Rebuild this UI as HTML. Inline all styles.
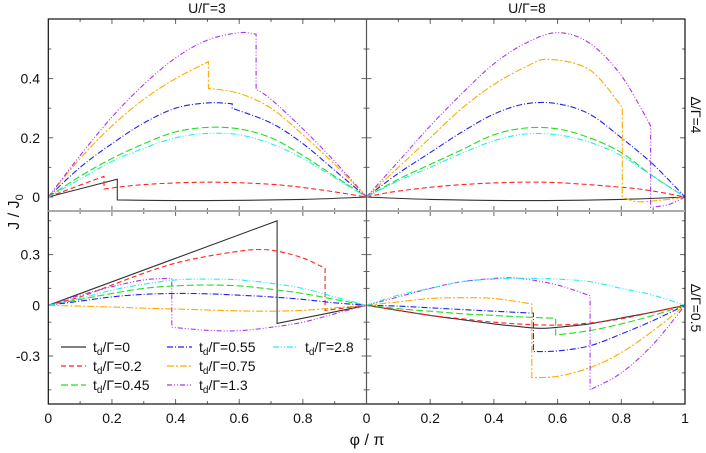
<!DOCTYPE html>
<html><head><meta charset="utf-8"><style>
body{margin:0;background:#fff}
svg{display:block;font-family:"Liberation Sans",sans-serif}
</style></head><body>
<svg id="c" width="706" height="453"></svg>
<script>
const panelsX = [[48.3,366.5],[366.5,685]];
const rowsY = [{top:19,bot:211,zero:197,scale:296},{top:211,bot:404,zero:305.3,scale:169}];
const seriesNames = ["t_d/Γ=0","t_d/Γ=0.2","t_d/Γ=0.45","t_d/Γ=0.55","t_d/Γ=0.75","t_d/Γ=1.3","t_d/Γ=2.8"];
const seriesColors = ["#333","#f22","#2d2","#22e","#fa0","#a3e","#2ee"];
const seriesDash = ["","5,3","7,3","6,2,1,2","7,2,2,2","5,2,1,2,1,2","6,2,1,2,1,2"];
const dataTL = [
 [[0,0],[0.217,0.06],[0.217,-0.01],[0.5,-0.012],[0.8,-0.008],[1,0]],
 [[0,0],[0.175,0.07],[0.175,0.027],[0.3,0.042],[0.5,0.05],[0.7,0.043],[0.85,0.025],[1,0]],
 [[0,0],[0.1,0.07],[0.2,0.13],[0.3,0.18],[0.4,0.22],[0.5,0.235],[0.6,0.23],[0.7,0.2],[0.8,0.14],[0.9,0.07],[1,0]],
 [[0,0],[0.1,0.1],[0.2,0.18],[0.3,0.25],[0.4,0.3],[0.5,0.318],[0.578,0.315],[0.578,0.3],[0.7,0.25],[0.8,0.18],[0.9,0.09],[1,0]],
 [[0,0],[0.1,0.13],[0.2,0.24],[0.3,0.33],[0.4,0.4],[0.503,0.457],[0.503,0.367],[0.6,0.35],[0.7,0.3],[0.8,0.21],[0.9,0.11],[1,0]],
 [[0,0],[0.1,0.14],[0.2,0.27],[0.3,0.38],[0.4,0.47],[0.5,0.53],[0.6,0.555],[0.653,0.55],[0.653,0.364],[0.7,0.33],[0.8,0.23],[0.9,0.12],[1,0]],
 [[0,0],[0.1,0.06],[0.2,0.12],[0.3,0.165],[0.4,0.2],[0.5,0.215],[0.6,0.21],[0.7,0.18],[0.8,0.13],[0.9,0.065],[1,0]]
];
const dataTR = [
 [[0,0],[0.2,-0.008],[0.5,-0.012],[0.8,-0.008],[1,0]],
 [[0,0],[0.1,0.02],[0.3,0.042],[0.55,0.05],[0.8,0.033],[0.9,0.02],[1,0]],
 [[0,0],[0.1,0.06],[0.2,0.11],[0.3,0.16],[0.4,0.21],[0.5,0.233],[0.6,0.23],[0.7,0.2],[0.8,0.15],[0.9,0.07],[1,0]],
 [[0,0],[0.1,0.08],[0.2,0.15],[0.3,0.22],[0.4,0.28],[0.5,0.315],[0.6,0.315],[0.7,0.28],[0.8,0.2],[0.9,0.11],[1,0]],
 [[0,0],[0.1,0.1],[0.2,0.2],[0.3,0.3],[0.4,0.38],[0.5,0.44],[0.57,0.465],[0.7,0.43],[0.803,0.303],[0.803,0.001],[0.85,-0.016],[0.93,-0.01],[1,0]],
 [[0,0],[0.1,0.12],[0.2,0.24],[0.3,0.35],[0.4,0.45],[0.5,0.52],[0.6,0.555],[0.7,0.52],[0.8,0.41],[0.892,0.241],[0.892,-0.035],[0.95,-0.025],[1,0]],
 [[0,0],[0.1,0.055],[0.2,0.1],[0.3,0.148],[0.4,0.19],[0.5,0.213],[0.6,0.21],[0.7,0.185],[0.8,0.14],[0.9,0.07],[1,0]]
];
const dataBL = [
 [[0,0],[0.719,0.5],[0.719,-0.107],[0.87,-0.05],[1,0]],
 [[0,0],[0.1,0.05],[0.2,0.12],[0.3,0.19],[0.4,0.25],[0.5,0.29],[0.6,0.32],[0.66,0.33],[0.72,0.32],[0.8,0.28],[0.87,0.219],[0.87,-0.03],[1,0]],
 [[0,0],[0.1,0.035],[0.2,0.07],[0.3,0.1],[0.4,0.115],[0.5,0.12],[0.6,0.115],[0.7,0.095],[0.8,0.07],[0.9,0.035],[1,0]],
 [[0,0],[0.1,0.025],[0.2,0.05],[0.3,0.065],[0.4,0.07],[0.5,0.068],[0.6,0.06],[0.7,0.05],[0.8,0.035],[0.9,0.015],[1,0]],
 [[0,0],[0.1,-0.005],[0.2,-0.01],[0.3,-0.017],[0.4,-0.022],[0.5,-0.028],[0.6,-0.033],[0.7,-0.035],[0.8,-0.03],[0.9,-0.015],[1,0]],
 [[0,0],[0.1,0.06],[0.2,0.11],[0.3,0.15],[0.388,0.16],[0.388,-0.13],[0.5,-0.148],[0.6,-0.15],[0.7,-0.13],[0.8,-0.1],[0.9,-0.05],[1,0]],
 [[0,0],[0.1,0.04],[0.2,0.09],[0.3,0.125],[0.4,0.15],[0.5,0.155],[0.6,0.15],[0.7,0.13],[0.8,0.1],[0.9,0.05],[1,0]]
];
const dataBR = [
 [[0,0],[0.1,-0.03],[0.2,-0.06],[0.3,-0.085],[0.4,-0.11],[0.5,-0.13],[0.55,-0.136],[0.6,-0.13],[0.7,-0.11],[0.8,-0.075],[0.9,-0.04],[1,0]],
 [[0,0],[0.1,-0.03],[0.2,-0.06],[0.3,-0.08],[0.4,-0.1],[0.5,-0.113],[0.6,-0.117],[0.7,-0.105],[0.8,-0.08],[0.9,-0.04],[1,0]],
 [[0,0],[0.1,-0.02],[0.2,-0.035],[0.3,-0.05],[0.4,-0.06],[0.5,-0.07],[0.594,-0.077],[0.594,-0.176],[0.7,-0.15],[0.8,-0.11],[0.9,-0.06],[1,0]],
 [[0,0],[0.1,-0.005],[0.2,-0.015],[0.3,-0.025],[0.4,-0.035],[0.524,-0.047],[0.524,-0.274],[0.6,-0.27],[0.7,-0.24],[0.8,-0.17],[0.9,-0.09],[1,0]],
 [[0,0],[0.1,0.02],[0.2,0.04],[0.3,0.045],[0.4,0.04],[0.519,0.008],[0.519,-0.428],[0.6,-0.42],[0.7,-0.37],[0.8,-0.28],[0.9,-0.15],[1,0]],
 [[0,0],[0.1,0.05],[0.2,0.1],[0.3,0.14],[0.43,0.162],[0.5,0.155],[0.6,0.12],[0.702,0.057],[0.702,-0.5],[0.8,-0.4],[0.9,-0.23],[1,0]],
 [[0,0],[0.1,0.06],[0.2,0.1],[0.3,0.14],[0.4,0.155],[0.5,0.16],[0.6,0.155],[0.7,0.14],[0.8,0.1],[0.9,0.06],[1,0]]
];
const xTicks = [0,0.2,0.4,0.6,0.8];
const yTicksTop = [0,0.2,0.4];
const yTicksBot = [-0.3,0,0.3];
const panels = [[dataTL,dataTR],[dataBL,dataBR]];
const NS="http://www.w3.org/2000/svg", svg=document.getElementById('c');
function mk(t,a,p){const e=document.createElementNS(NS,t);for(const k in a)e.setAttribute(k,a[k]);(p||svg).appendChild(e);return e;}
function xS(c,v){const [a,b]=panelsX[c];return a+(b-a)*v;}
function yS(r,v){const R=rowsY[r];return R.zero-v*R.scale;}
// smooth path: split at jumps (equal x), catmull-rom within segments
function smoothPath(P){
  const segs=[];let cur=[P[0]];
  for(let i=1;i<P.length;i++){
    if(Math.abs(P[i][0]-P[i-1][0])<0.01){segs.push(cur);cur=[P[i]];}else cur.push(P[i]);
  }
  segs.push(cur);
  let d='';
  segs.forEach((s,si)=>{
    d+=(si?'L':'M')+s[0][0].toFixed(1)+','+s[0][1].toFixed(1);
    for(let i=0;i<s.length-1;i++){
      const p0=s[i-1]||s[i],p1=s[i],p2=s[i+1],p3=s[i+2]||s[i+1];
      const c1=[p1[0]+(p2[0]-p0[0])/6,p1[1]+(p2[1]-p0[1])/6];
      const c2=[p2[0]-(p3[0]-p1[0])/6,p2[1]-(p3[1]-p1[1])/6];
      d+='C'+c1[0].toFixed(1)+','+c1[1].toFixed(1)+' '+c2[0].toFixed(1)+','+c2[1].toFixed(1)+' '+p2[0].toFixed(1)+','+p2[1].toFixed(1);
    }
  });
  return d;
}
for(let r=0;r<2;r++)for(let c=0;c<2;c++){
  const R=rowsY[r];
  for(let i=1;i<10;i++){const x=xS(c,i/10);
    let t=mk('line',{x1:x,x2:x,y1:R.bot,y2:R.bot-(i%2?3:5),stroke:'#666'});
    
    t=mk('line',{x1:x,x2:x,y1:R.top,y2:R.top+(i%2?3:5),stroke:'#666'});
    }
  for(let v=-0.6;v<=0.6;v+=0.1){const y=yS(r,v);if(y<R.top+2||y>R.bot-2)continue;
    const maj=r==0?Math.abs(Math.round(v*10)%2)==0:Math.abs(Math.round(v*10)%3)==0;
    const [a,b]=panelsX[c];
    let t=mk('line',{x1:a,x2:a+(maj?5:3),y1:y,y2:y,stroke:'#666'});
    
    t=mk('line',{x1:b,x2:b-(maj?5:3),y1:y,y2:y,stroke:'#666'});
    }
}
for(let r=0;r<2;r++)for(let c=0;c<2;c++){
  const g=mk('g',{});
  
  
  panels[r][c].forEach((pts,s)=>{
    const px=pts.map(p=>[xS(c,p[0]),yS(r,p[1])]);
    const p=mk('path',{d:smoothPath(px),fill:'none',stroke:seriesColors[s],'stroke-width':1.1,'stroke-dasharray':seriesDash[s]},g);
    
    
  });
}
let f=mk('rect',{x:48.3,y:19,width:636.7,height:385,fill:'none',stroke:'#111','stroke-width':1.2});

f=mk('line',{x1:48.3,x2:685,y1:211,y2:211,stroke:'#aaa','stroke-width':2});

f=mk('line',{x1:366.5,x2:366.5,y1:19,y2:404,stroke:'#555','stroke-width':1.2});

function txt(x,y,s,name,extra){const t=mk('text',Object.assign({x:x,y:y,'font-size':14,'text-anchor':'middle',fill:'#111'},extra||{}));t.textContent=s;
  return t;}
for(let c=0;c<2;c++){xTicks.forEach(v=>txt(xS(c,v),423,String(v),'x-tick-label'));}
txt(xS(1,1),423,'1','x-tick-label');
yTicksTop.forEach(v=>txt(40,yS(0,v)+5,String(v),'y-tick-label',{'text-anchor':'end'}));
yTicksBot.forEach(v=>txt(40,yS(1,v)+5,String(v),'y-tick-label',{'text-anchor':'end'}));
txt(207,13,'U/Γ=3','column-title-left');
txt(527,13,'U/Γ=8','column-title-right');
txt(367,445,'φ / π','x-axis-title',{'font-size':16});
let yl=mk('text',{x:0,y:0,'font-size':16,'text-anchor':'middle',fill:'#111',transform:'translate(19,212) rotate(-90)'});
yl.innerHTML='J / J<tspan font-size="11" dy="4">0</tspan>';

txt(0,0,'Δ/Γ=4','row-title-top',{transform:'translate(691,115) rotate(90)'});
txt(0,0,'Δ/Γ=0.5','row-title-bottom',{transform:'translate(691,308) rotate(90)'});
const legCols=[61,167,273], legRows=[347,366,385];
const lg=mk('g',{});
const order=[[0,0],[1,0],[2,0],[0,1],[1,1],[2,1],[0,2]];
order.forEach((o,s)=>{
  const x=legCols[o[1]],y=legRows[o[0]];
  const e=mk('g',{},lg);
  mk('line',{x1:x,x2:x+25,y1:y,y2:y,stroke:seriesColors[s],'stroke-width':1.3,'stroke-dasharray':seriesDash[s]},e);
  const t=mk('text',{x:x+32,y:y+5,'font-size':14,fill:'#111'},e);
  const v=seriesNames[s].split('=')[1];
  t.innerHTML='t<tspan font-size="10" dy="3">d</tspan><tspan dy="-3">/Γ='+v+'</tspan>';
});
</script>
</body></html>
